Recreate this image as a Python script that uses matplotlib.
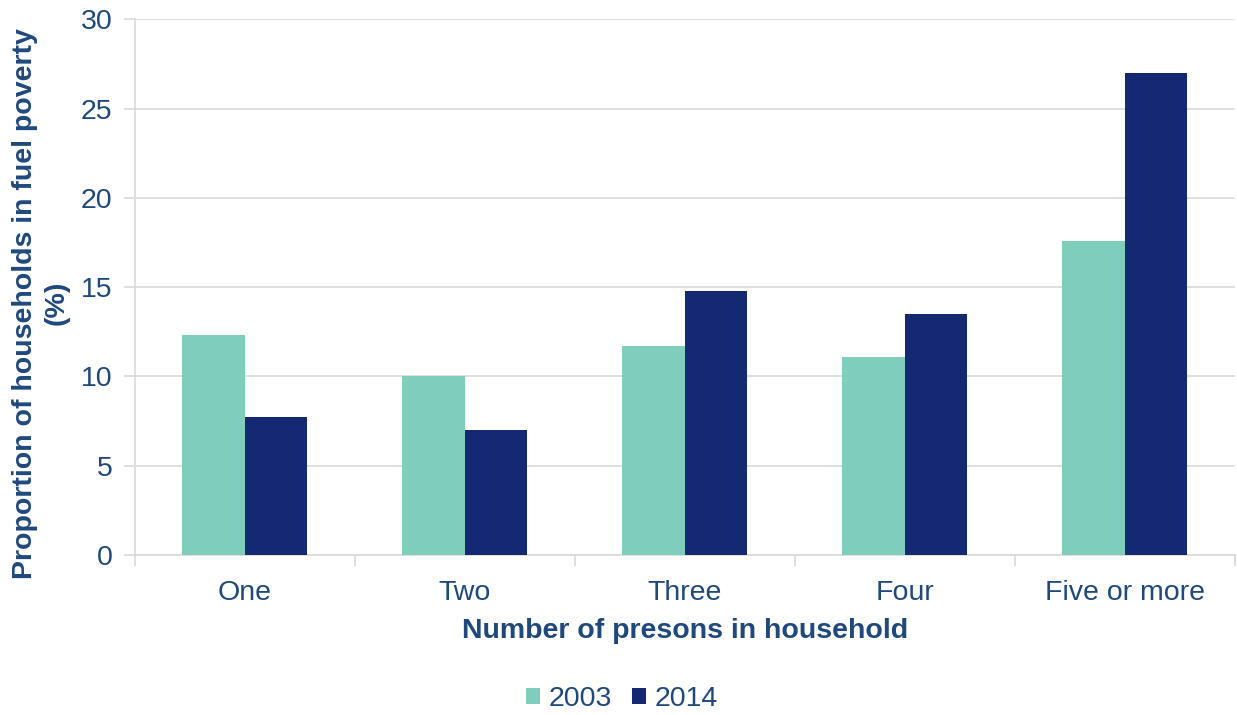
import matplotlib.pyplot as plt
import numpy as np

categories = ["One", "Two", "Three", "Four", "Five or more"]
values_2003 = [12.3, 10.0, 11.7, 11.1, 17.6]
values_2014 = [7.7, 7.0, 14.8, 13.5, 27.0]

text_color = "#1F497D"
grid_color = "#D9D9D9"
fs = 20.5

plt.rcParams["font.family"] = ["Liberation Sans", "DejaVu Sans"]

fig = plt.figure(figsize=(12.37, 7.15), dpi=100)
ax = fig.add_axes([0.109, 0.224, 0.889, 0.749])

x = np.arange(len(categories))
w = 0.285
ax.bar(x - w / 2, values_2003, w, color="#7FCDBB", label="2003", zorder=3)
ax.bar(x + w / 2, values_2014, w, color="#152872", label="2014", zorder=3)

ax.set_xlim(-0.5, len(categories) - 0.5)
ax.set_ylim(0, 30)
ax.set_yticks(range(0, 31, 5))
ax.yaxis.grid(True, color=grid_color, linewidth=1.2, zorder=0)

ax.set_xticks(x)
ax.set_xticklabels(categories)
ax.set_xticks(np.arange(-0.5, len(categories)), minor=True)
ax.tick_params(axis="x", which="major", length=0, pad=18, labelsize=fs, labelcolor=text_color)
ax.tick_params(axis="x", which="minor", length=8, width=1.2, color=grid_color)
ax.tick_params(axis="y", length=8, width=1.2, color=grid_color, pad=8, labelsize=fs, labelcolor=text_color)

for side in ["top", "right"]:
    ax.spines[side].set_visible(False)
for side in ["left", "bottom"]:
    ax.spines[side].set_color(grid_color)
    ax.spines[side].set_linewidth(1.2)

ax.set_xlabel("Number of presons in household", fontsize=fs, fontweight="bold",
              color=text_color, labelpad=9)
ax.set_ylabel("Proportion of households in fuel poverty\n(%)", fontsize=fs,
              fontweight="bold", color=text_color, linespacing=1.3)
ax.yaxis.set_label_coords(-0.059, 0.47)

leg = fig.legend(loc="center", bbox_to_anchor=(0.503, 0.022), ncol=2, frameon=False,
                 fontsize=fs, handlelength=0.5, handleheight=0.5, handletextpad=0.3,
                 columnspacing=0.7)
for t in leg.get_texts():
    t.set_color(text_color)

fig.savefig("out.png", dpi=100)
